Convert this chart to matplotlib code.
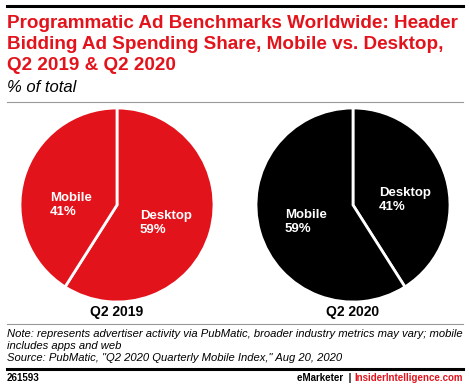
import matplotlib.pyplot as plt
from matplotlib.lines import Line2D

# Datos
years = ["Q2 2019", "Q2 2020"]
segments = ["Desktop", "Mobile"]
desktop_share = [59, 41]
mobile_share = [41, 59]
pie_colors = ["#E3131C", "#000000"]

W, H = 470, 389
fig = plt.figure(figsize=(W / 100, H / 100), dpi=100)
plt.rcParams['font.family'] = ['Liberation Sans', 'DejaVu Sans']

def fy(y):
    return 1 - y / H

def hline(y, color, lw):
    fig.add_artist(Line2D([7 / W, 463 / W], [fy(y), fy(y)], color=color, linewidth=lw))

# Líneas de separación
hline(6, 'black', 2.2)
hline(101.5, '#999999', 0.8)
hline(324, '#999999', 0.8)
hline(369, 'black', 2.2)

# Título
title = "Programmatic Ad Benchmarks Worldwide: Header\nBidding Ad Spending Share, Mobile vs. Desktop,\nQ2 2019 & Q2 2020"
fig.text(7 / W, fy(15), title, color='#E3131C', fontsize=13.6, fontweight='bold',
         va='top', ha='left', linespacing=1.3)
fig.text(7 / W, fy(88), "% of total", fontsize=12, style='italic', va='center', ha='left')

# Pasteles
centers_x = [117, 353]
cy, r = 205, 97
label_pos = [
    [(140, 223), (50, 205)],   # Desktop, Mobile en 2019
    [(379, 200), (285, 222)],  # Desktop, Mobile en 2020
]
for i, year in enumerate(years):
    cx = centers_x[i]
    ax = fig.add_axes([(cx - r) / W, fy(cy + r), 2 * r / W, 2 * r / H])
    ax.pie([desktop_share[i], mobile_share[i]], colors=[pie_colors[i]] * 2,
           startangle=90, counterclock=False,
           wedgeprops=dict(edgecolor='white', linewidth=2))
    ax.set_xlim(-1, 1)
    ax.set_ylim(-1, 1)
    ax.set_aspect('auto')
    vals = [desktop_share[i], mobile_share[i]]
    for j, seg in enumerate(segments):
        lx, ly = label_pos[i][j]
        fig.text(lx / W, fy(ly), f"{seg}\n{vals[j]}%", color='white', fontsize=9.5,
                 fontweight='bold', ha='left', va='center', linespacing=1.2)
    fig.text(cx / W, fy(312), year, fontsize=10, fontweight='bold', ha='center', va='center')

# Notas
note = ("Note: represents advertiser activity via PubMatic, broader industry metrics may vary; mobile\n"
        "includes apps and web\n"
        "Source: PubMatic, \"Q2 2020 Quarterly Mobile Index,\" Aug 20, 2020")
fig.text(7 / W, fy(329), note, fontsize=8.1, style='italic', va='top', ha='left', linespacing=1.22)

fig.text(7 / W, fy(378), "261593", fontsize=7, fontweight='bold', va='center', ha='left')
site = fig.text(463 / W, fy(378), "InsiderIntelligence.com", fontsize=7, fontweight='bold',
                color='#E3131C', va='center', ha='right')
renderer = fig.canvas.get_renderer()
x0 = site.get_window_extent(renderer).x0 / fig.bbox.width
fig.text(x0 - 3 / W, fy(378), "eMarketer  |", fontsize=7, fontweight='bold',
         va='center', ha='right')

fig.savefig("out.png", dpi=100)
